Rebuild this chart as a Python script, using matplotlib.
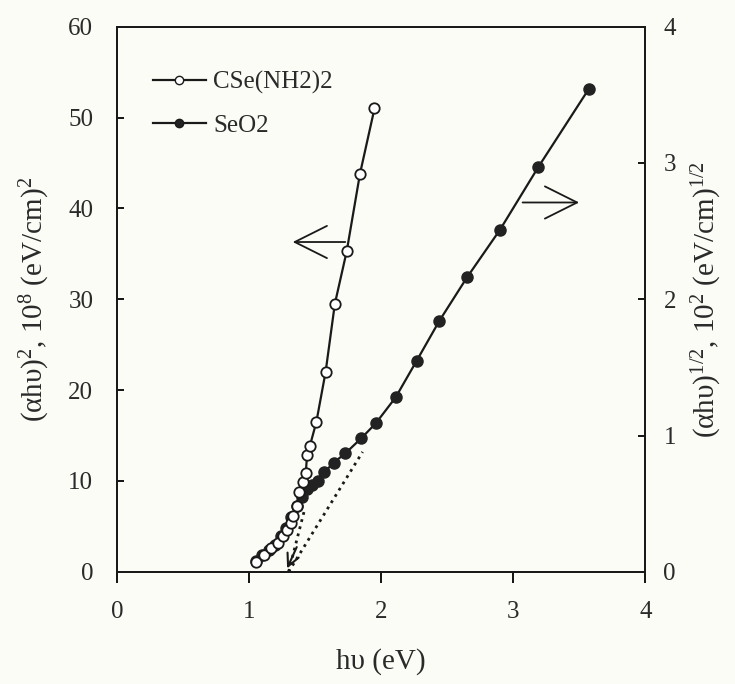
import matplotlib
matplotlib.use("Agg")
import matplotlib.pyplot as plt
from matplotlib.lines import Line2D

# CSe(NH2)2 : (alpha h nu)^2, left axis
cse_x = [1.05, 1.11, 1.17, 1.22, 1.26, 1.29, 1.32, 1.33, 1.36, 1.38, 1.41,
         1.43, 1.44, 1.46, 1.51, 1.58, 1.65, 1.74, 1.84, 1.95]
cse_y = [1.1, 1.8, 2.6, 3.2, 3.9, 4.6, 5.4, 6.1, 7.2, 8.8, 9.9,
         10.9, 12.9, 13.8, 16.5, 22.0, 29.5, 35.3, 43.8, 51.0]

# SeO2 : (alpha h nu)^1/2, right axis
seo_x = [1.05, 1.10, 1.15, 1.20, 1.24, 1.28, 1.32, 1.36, 1.40, 1.44, 1.48,
         1.52, 1.57, 1.64, 1.73, 1.85, 1.96, 2.11, 2.27, 2.44, 2.65, 2.90,
         3.19, 3.57]
seo_y = [0.08, 0.12, 0.16, 0.20, 0.26, 0.32, 0.40, 0.48, 0.55, 0.61, 0.64,
         0.67, 0.73, 0.80, 0.87, 0.98, 1.09, 1.28, 1.55, 1.84, 2.16, 2.51,
         2.97, 3.54]

# extrapolation lines (band gap ~1.3 eV)
gap = 1.30
tan1_x = [gap, 1.42]
tan1_y = [0.0, 6.8]
tan2_x = [gap, 1.86]
tan2_y = [0.0, 0.88]

plt.rcParams["font.family"] = ["Liberation Serif", "DejaVu Serif"]
plt.rcParams["mathtext.fontset"] = "custom"
plt.rcParams["mathtext.rm"] = "Liberation Serif"
plt.rcParams["mathtext.it"] = "Liberation Serif:italic"

bg = "#fcfcf7"
ink = "#1a1a1a"

fig = plt.figure(figsize=(7.35, 6.84), dpi=100, facecolor=bg)
ax = fig.add_axes([0.159, 0.164, 0.719, 0.797])
ax2 = ax.twinx()
# open circles must sit on top of the filled ones
ax2.set_facecolor(bg)
ax.set_zorder(ax2.get_zorder() + 1)
ax.patch.set_visible(False)

ax2.plot(seo_x, seo_y, "-o", color=ink, lw=1.6, markersize=8,
         markerfacecolor="#222222", markeredgecolor="#222222")
ax.plot(cse_x, cse_y, "-o", color=ink, lw=1.6, markersize=7.5,
        markerfacecolor="white", markeredgewidth=1.3)

ax.plot(tan1_x, tan1_y, ":", color=ink, lw=2)
ax2.plot(tan2_x, tan2_y, ":", color=ink, lw=2)
ax.annotate("", xy=(gap - 0.02, 0.1), xytext=(gap + 0.07, 3.0),
            arrowprops=dict(arrowstyle="->", lw=1.5, color=ink,
                            mutation_scale=22))

# direction arrows
ax.annotate("", xy=(1.31, 36.3), xytext=(1.75, 36.3),
            arrowprops=dict(arrowstyle="->", lw=1.3, color=ink,
                            mutation_scale=58))
ax2.annotate("", xy=(3.52, 2.71), xytext=(3.05, 2.71),
             arrowprops=dict(arrowstyle="->", lw=1.3, color=ink,
                             mutation_scale=58))

ax.set_xlim(0, 4)
ax.set_ylim(0, 60)
ax2.set_ylim(0, 4)
ax.set_xticks([0, 1, 2, 3, 4])
ax.set_yticks([0, 10, 20, 30, 40, 50, 60])
ax2.set_yticks([0, 1, 2, 3, 4])

ax.tick_params(axis="x", direction="out", length=8, width=1.3, labelsize=18,
               pad=13, labelcolor="#2a2a2a")
ax.tick_params(axis="y", direction="in", length=5, width=1.3, labelsize=18,
               pad=17, labelcolor="#2a2a2a")
ax2.tick_params(axis="y", direction="in", length=5, width=1.3, labelsize=18,
                pad=13, labelcolor="#2a2a2a")
for a in (ax, ax2):
    for s in a.spines.values():
        s.set_linewidth(1.4)
        s.set_color(ink)

ax.set_xlabel("hυ (eV)", fontsize=21, labelpad=18, color="#2a2a2a")
ax.set_ylabel("(αhυ)$^2$, 10$^8$ (eV/cm)$^2$", fontsize=21, labelpad=12,
              color="#2a2a2a")
ax2.set_ylabel("(αhυ)$^{1/2}$, 10$^2$ (eV/cm)$^{1/2}$", fontsize=21,
               rotation=90, labelpad=10, color="#2a2a2a")

handles = [
    Line2D([], [], color=ink, lw=1.6, marker="o", markersize=6,
           markerfacecolor="white"),
    Line2D([], [], color=ink, lw=1.6, marker="o", markersize=6,
           markerfacecolor="#222222"),
]
ax.legend(handles, ["CSe(NH2)2", "SeO2"], loc="upper left",
          bbox_to_anchor=(0.026, 0.96), frameon=False, fontsize=18,
          handlelength=2.1, handletextpad=0.3, labelspacing=0.8,
          labelcolor="#2a2a2a")

fig.savefig("out.png", dpi=100, facecolor=fig.get_facecolor())
